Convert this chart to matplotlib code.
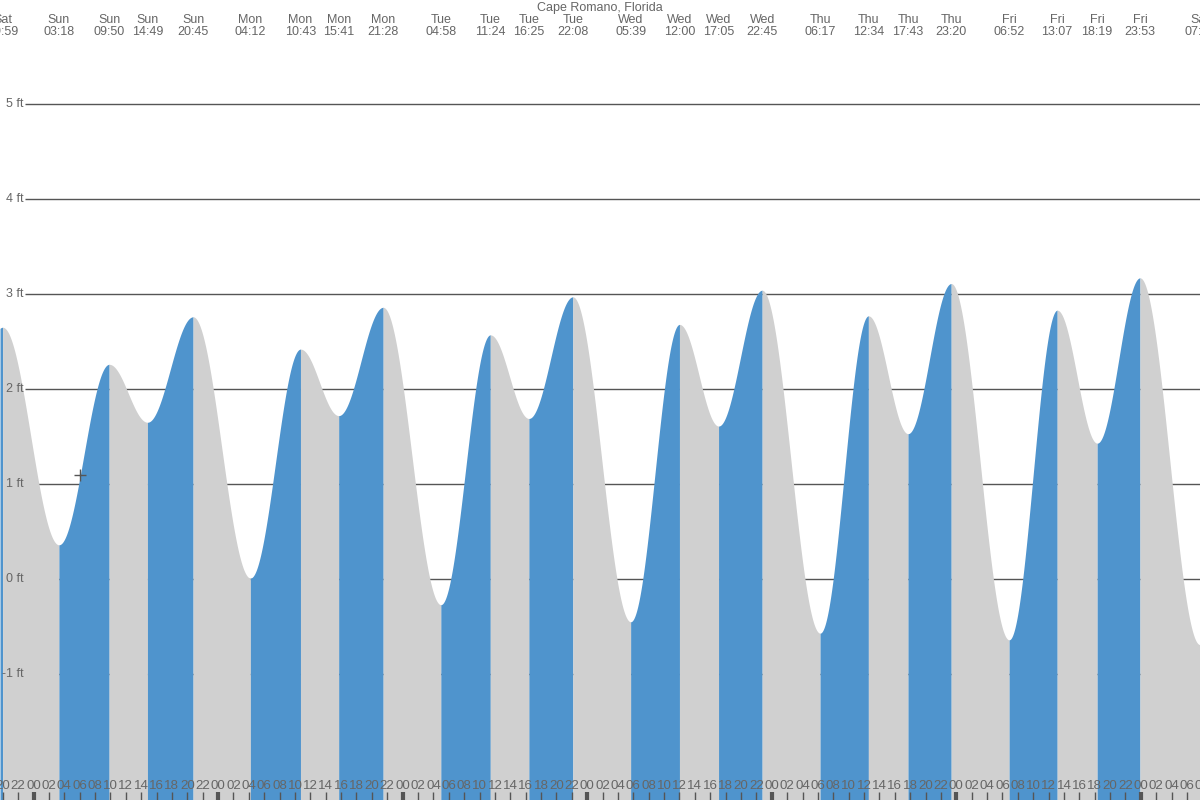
import numpy as np
import matplotlib
matplotlib.use('Agg')
import matplotlib.pyplot as plt

plt.rcParams['font.family'] = ['Liberation Sans', 'DejaVu Sans']

title = 'Cape Romano, Florida'
extreme_days = ['Sat', 'Sun', 'Sun', 'Sun', 'Sun', 'Mon', 'Mon', 'Mon', 'Mon',
                'Tue', 'Tue', 'Tue', 'Tue', 'Wed', 'Wed', 'Wed', 'Wed',
                'Thu', 'Thu', 'Thu', 'Thu', 'Fri', 'Fri', 'Fri', 'Fri', 'Sat']
extreme_times = ['19:59', '03:18', '09:50', '14:49', '20:45', '04:12', '10:43', '15:41', '21:28',
                 '04:58', '11:24', '16:25', '22:08', '05:39', '12:00', '17:05', '22:45',
                 '06:17', '12:34', '17:43', '23:20', '06:52', '13:07', '18:19', '23:53', '07:40']
extreme_heights = [2.65, 0.36, 2.26, 1.65, 2.76, 0.01, 2.42, 1.72, 2.86,
                   -0.27, 2.57, 1.69, 2.97, -0.45, 2.68, 1.61, 3.04,
                   -0.57, 2.77, 1.53, 3.11, -0.64, 2.83, 1.43, 3.17, -0.69]
grid_levels = [-1, 0, 1, 2, 3, 4, 5]
now_hour = 6.1  # Sun 06:06

BLUE = '#4f94cd'
GREY = '#d0d0d0'
TEXT = '#666666'
LINE = '#555555'

# hours since Sun 00:00
day_idx = -1
hours = []
prev = extreme_days[0]
for d, s in zip(extreme_days, extreme_times):
    if d != prev:
        day_idx += 1
        prev = d
    hh, mm = s.split(':')
    hours.append(day_idx * 24 + int(hh) + int(mm) / 60)
hours = np.array(hours)
heights = np.array(extreme_heights)

px_per_hour = 7.69
t0 = -33.5 / px_per_hour
t1 = (1200 - 33.5) / px_per_hour
y_lo = (579 - 800) / 95
y_hi = 579 / 95


def tide(t):
    # cosine between consecutive extremes
    t = np.atleast_1d(t).astype(float)
    out = np.empty_like(t)
    for k, tt in enumerate(t):
        i = np.searchsorted(hours, tt) - 1
        i = min(max(i, 0), len(hours) - 2)
        a, b = hours[i], hours[i + 1]
        ha, hb = heights[i], heights[i + 1]
        f = (tt - a) / (b - a)
        out[k] = ha + (hb - ha) * (1 - np.cos(np.pi * f)) / 2
    return out


fig = plt.figure(figsize=(12, 8), dpi=100)
ax = fig.add_axes([0, 0, 1, 1])
ax.set_xlim(t0, t1)
ax.set_ylim(y_lo, y_hi)
ax.axis('off')

# grid lines behind the fill
ax.hlines(grid_levels, 25 / 1200, 1, transform=ax.get_yaxis_transform(),
          color=LINE, lw=1, zorder=1)

# segments between extremes, blue when rising, grey when falling
edges = np.concatenate([[t0], hours, [t1]])
for i in range(len(edges) - 1):
    a, b = edges[i], edges[i + 1]
    if b <= a:
        continue
    tt = np.linspace(a, b, 200)
    if i == 0:
        # before first high: mirror the next half cycle
        hh = heights[0] - (heights[0] - heights[1]) * (1 - np.cos(np.pi * (hours[0] - tt) / (hours[1] - hours[0]))) / 2
        rising = heights[0] > heights[1]
    elif i == len(edges) - 2:
        hh = heights[-1] - (heights[-1] - heights[-2]) * (1 - np.cos(np.pi * (tt - hours[-1]) / (hours[-1] - hours[-2]))) / 2
        rising = heights[-1] < heights[-2]
    else:
        hh = tide(tt)
        rising = heights[i] > heights[i - 1]
    ax.fill_between(tt, y_lo, hh, color=BLUE if rising else GREY, lw=0, zorder=2)

# y labels on top
for lv in grid_levels:
    ax.text(24 / 1200, lv, f'{lv} ft', transform=ax.get_yaxis_transform(),
            ha='right', va='center', fontsize=9, color=TEXT, zorder=5)

# top labels
ax.text(0.5, 1 - 8 / 800, title, transform=ax.transAxes, ha='center', va='center',
        fontsize=9, color=TEXT)
for h, d, s in zip(hours, extreme_days, extreme_times):
    ax.text(h, 1 - 20 / 800, d, transform=ax.get_xaxis_transform(), ha='center',
            va='center', fontsize=9, color=TEXT, clip_on=False)
    ax.text(h, 1 - 32 / 800, s, transform=ax.get_xaxis_transform(), ha='center',
            va='center', fontsize=9, color=TEXT, clip_on=False)

# hour ticks along the bottom
for hr in range(-4, int(t1) + 2, 2):
    mid = hr % 24 == 0
    ax.vlines(hr, 0, 8 / 800, transform=ax.get_xaxis_transform(), color=LINE,
              lw=3 if mid else 1, zorder=4)
    ax.text(hr, 14 / 800, f'{hr % 24:02d}', transform=ax.get_xaxis_transform(),
            ha='center', va='center', fontsize=9.6, color=TEXT, zorder=5)

# current time marker
ax.plot([now_hour], tide(now_hour), marker='+', ms=9, mew=1, color=LINE, zorder=6)

fig.savefig('out.png', dpi=100)
